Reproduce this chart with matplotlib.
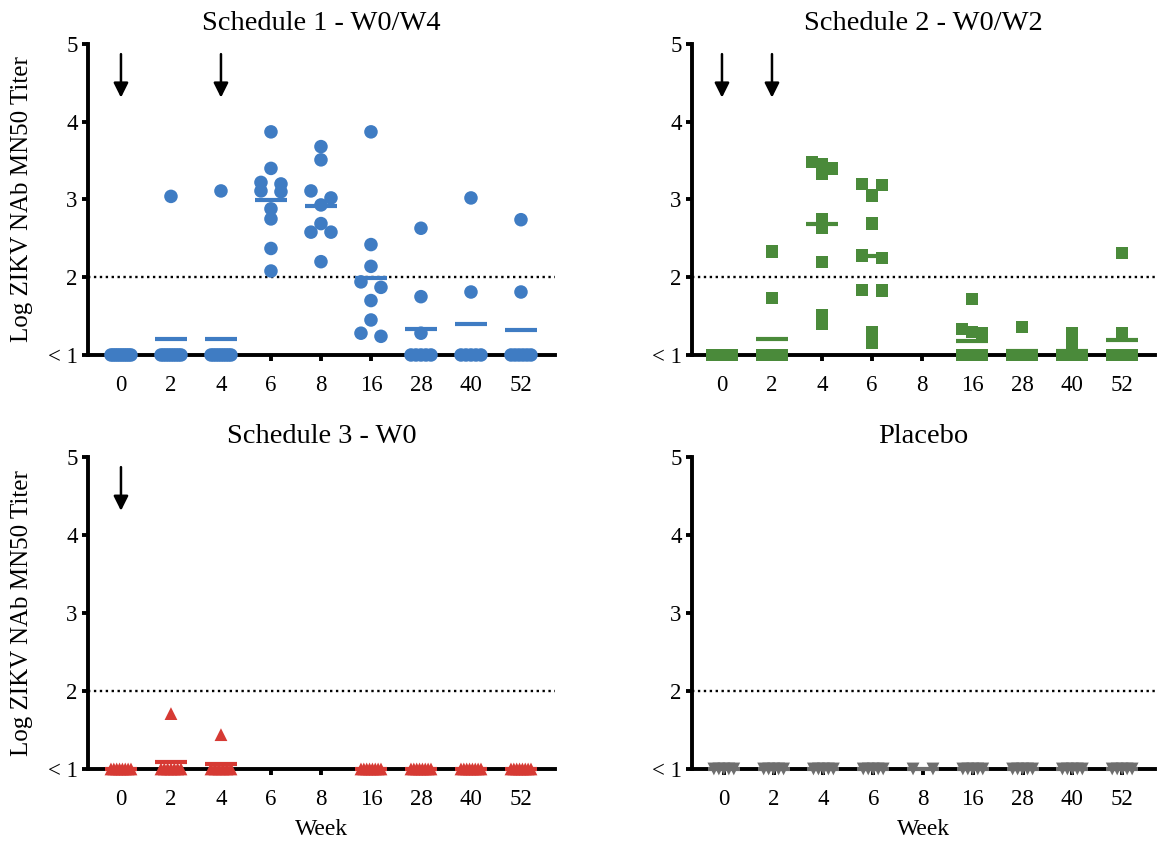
import numpy as np
import matplotlib
matplotlib.use("Agg")
import matplotlib.pyplot as plt

plt.rcParams['font.family'] = ['Liberation Serif', 'DejaVu Serif']

# ---------------- data (log10 titers, 1 = below limit) ----------------
weeks = ['0', '2', '4', '6', '8', '16', '28', '40', '52']

sched1 = [
    [1] * 10,
    [3.04] + [1] * 9,
    [3.11] + [1] * 9,
    [3.87, 3.40, 3.22, 3.20, 3.11, 3.10, 2.88, 2.75, 2.37, 2.08],
    [3.68, 3.51, 3.11, 3.02, 2.93, 2.69, 2.58, 2.58, 2.20],
    [3.87, 2.42, 2.14, 1.94, 1.87, 1.70, 1.45, 1.28, 1.24],
    [2.63, 1.75, 1.28] + [1] * 5,
    [3.02, 1.81] + [1] * 5,
    [2.74, 1.81] + [1] * 6,
]
sched2 = [
    [1] * 10,
    [2.33, 1.73] + [1] * 8,
    [3.48, 3.46, 3.40, 3.33, 2.75, 2.64, 2.20, 1.51, 1.40],
    [3.20, 3.19, 3.05, 2.69, 2.28, 2.25, 1.84, 1.83, 1.30, 1.15],
    [],
    [1.72, 1.33, 1.30, 1.28] + [1] * 5,
    [1.36] + [1] * 7,
    [1.28, 1.14] + [1] * 6,
    [2.31, 1.28] + [1] * 6,
]
sched3 = [
    [1] * 8,
    [1.71] + [1] * 7,
    [1.44] + [1] * 6,
    [],
    [],
    [1] * 8,
    [1] * 8,
    [1] * 8,
    [1] * 8,
]
placebo = [
    [1] * 5,
    [1] * 5,
    [1] * 5,
    [1] * 5,
    [1] * 2,
    [1] * 5,
    [1] * 5,
    [1] * 5,
    [1] * 5,
]

titles = ['Schedule 1 - W0/W4', 'Schedule 2 - W0/W2', 'Schedule 3 - W0', 'Placebo']
doses = [[0, 2], [0, 1], [0], []]          # category index of vaccination weeks
colors = ['#3f7cc3', '#4a8a3a', '#d63a34', '#6e6e6e']
markers = ['o', 's', '^', 'v']
sizes = [95, 78, 85, 85]


def spread(vals, yrow=0.105, xsp=0.4, wmax=0.2):
    # group points of similar value into rows and spread them sideways
    vals = np.asarray(vals, dtype=float)
    offs = np.zeros(len(vals))
    rows = []
    for idx in np.argsort(-vals, kind='stable'):
        if rows and vals[rows[-1][0]] - vals[idx] < yrow:
            rows[-1].append(idx)
        else:
            rows.append([idx])
    for row in rows:
        k = len(row)
        if k > 1:
            half = min((k - 1) * xsp / 2, wmax)
            offs[row] = np.linspace(-half, half, k)
    return offs


fig = plt.figure(figsize=(11.62, 8.48), dpi=100)
rects = [
    [0.0757, 0.5814, 0.4019, 0.3667],
    [0.5955, 0.5814, 0.3985, 0.3667],
    [0.0757, 0.0932, 0.4019, 0.3679],
    [0.5955, 0.0932, 0.3985, 0.3679],
]
xlims = [(-0.66, 8.68), (-0.60, 8.66), (-0.66, 8.68), (-0.64, 8.66)]

for p, data in enumerate([sched1, sched2, sched3, placebo]):
    ax = fig.add_axes(rects[p])
    for i, vals in enumerate(data):
        if len(vals) == 0:
            continue
        x = i + spread(vals)
        ax.scatter(x, vals, s=sizes[p], marker=markers[p], color=colors[p],
                   edgecolors='none', zorder=3, clip_on=False)
        ax.hlines(np.mean(vals), i - 0.32, i + 0.32, color=colors[p], lw=3,
                  zorder=4, clip_on=False)

    ax.axhline(2, color='black', lw=1.7, ls=(0, (1, 1.5)), zorder=2)

    for d in doses[p]:
        ax.annotate('', xy=(d, 4.31), xytext=(d, 4.87),
                    arrowprops=dict(arrowstyle='-|>', color='black', lw=1.8,
                                    mutation_scale=22, shrinkA=0, shrinkB=0))

    ax.set_xlim(*xlims[p])
    ax.set_ylim(1, 5)
    ax.set_xticks(range(len(weeks)))
    ax.set_xticklabels(weeks)
    ax.set_yticks([1, 2, 3, 4, 5])
    ax.set_yticklabels(['< 1', '2', '3', '4', '5'])
    for side in ['top', 'right']:
        ax.spines[side].set_visible(False)
    for side in ['left', 'bottom']:
        ax.spines[side].set_linewidth(2.8)
    ax.tick_params(axis='both', width=2.8, length=4.5, labelsize=16.5)
    ax.tick_params(axis='x', pad=10)
    ax.tick_params(axis='y', pad=3)
    ax.set_title(titles[p], fontsize=20.5, pad=10)
    if p in (0, 2):
        ax.set_ylabel('Log ZIKV NAb MN50 Titer', fontsize=18)
        ax.yaxis.set_label_coords(-0.118, 0.5)
    if p in (2, 3):
        ax.set_xlabel('Week', fontsize=17)
        ax.xaxis.set_label_coords(0.5, -0.16)

fig.savefig('out.png', dpi=100)
